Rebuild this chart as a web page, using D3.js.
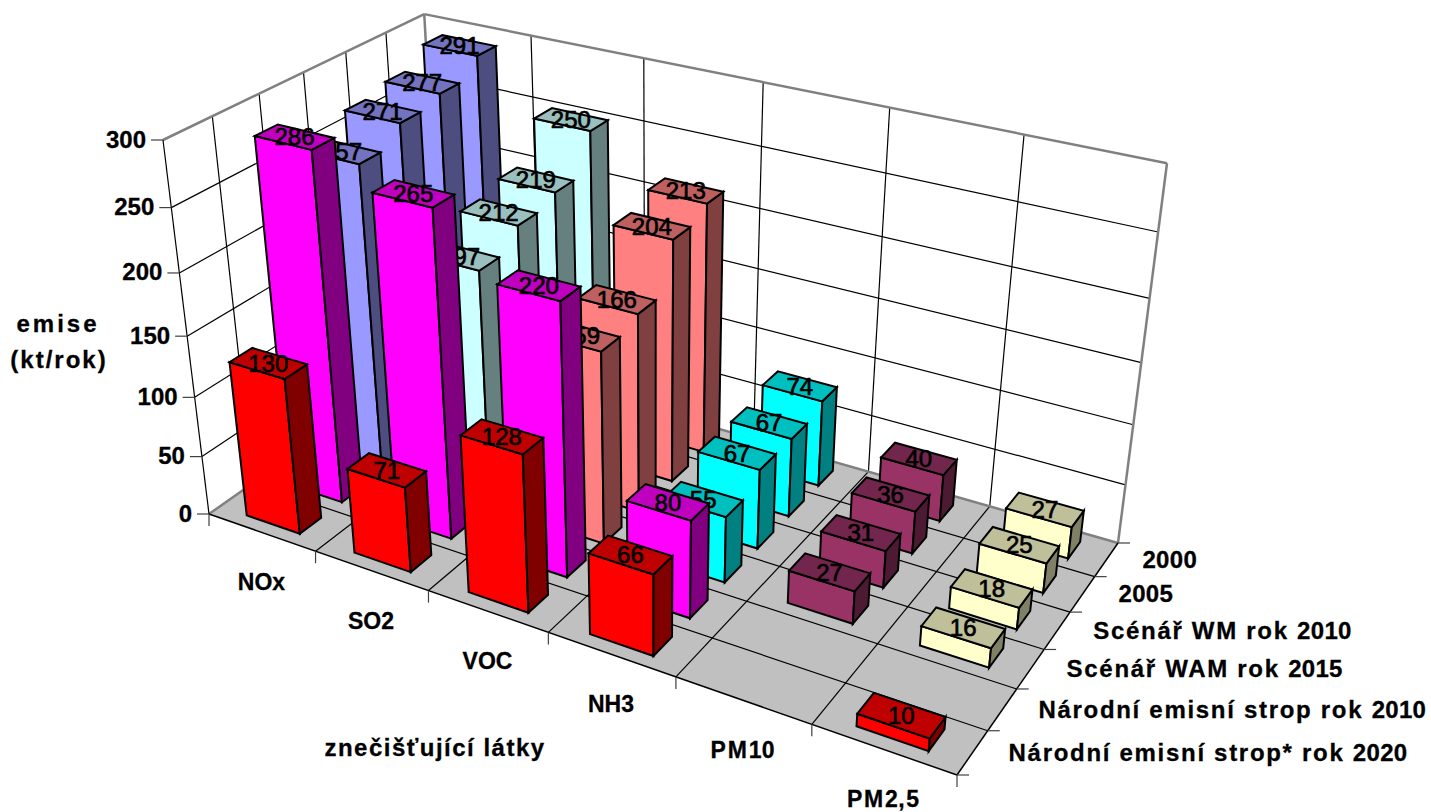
<!DOCTYPE html>
<html>
<head>
<meta charset="utf-8">
<script src="https://cdn.jsdelivr.net/npm/d3@7"></script>
<style>
  html, body { margin: 0; background: #fff; }
  svg { display: block; }
  text { font-family: "Liberation Sans", Arial, sans-serif; fill: #000; }
  .axis-label { font-weight: bold; font-size: 24px; stroke: #000; stroke-width: 0.3px; }
  .category-label { font-size: 23px; }
  .value { font-size: 24px; stroke: #000; stroke-width: 0.7px; }
</style>
</head>
<body>
<div id="chart-area"></div>
<script>
// Data
var categories = ["NOx", "SO2", "VOC", "NH3", "PM10", "PM2,5"];
// front row first
var seriesNames = [
    "Národní emisní strop* rok 2020",
    "Národní emisní strop rok 2010",
    "Scénář WAM rok 2015",
    "Scénář WM rok 2010",
    "2005",
    "2000"
];
var strop2020 = [130, 71, 128, 66, null, 10];
var strop2010 = [286, 265, 220, 80, null, null];
var wam2015 = [257, 197, 159, 55, 27, 16];
var wm2010 = [271, 212, 166, 67, 31, 18];
var y2005 = [277, 219, 204, 67, 36, 25];
var y2000 = [291, 250, 213, 74, 40, 27];
var rows = [strop2020, strop2010, wam2015, wm2010, y2005, y2000];
var yTicks = [0, 50, 100, 150, 200, 250, 300];

var categoryColors = ["#9999ff", "#ccffff", "#ff8080", "#00ffff", "#993366", "#ffffcc"];
var rowColors = ["#ff0000", "#ff00ff"];

var width = 1431, height = 812;

var svg = d3.select("#chart-area")
    .append("svg")
        .attr("width", width)
        .attr("height", height);

// Camera: the box corners as they land on screen
var cFrontLeft = [209, 514], cFrontRight = [957, 775],
    cBackRight = [1118, 543], cBackLeft = [443, 350],
    cTopFront = [163, 140], cTopRight = [1167, 160];

var sx = cFrontLeft[0] - cFrontRight[0] + cBackRight[0] - cBackLeft[0],
    sy = cFrontLeft[1] - cFrontRight[1] + cBackRight[1] - cBackLeft[1],
    dx1 = cFrontRight[0] - cBackRight[0], dx2 = cBackLeft[0] - cBackRight[0],
    dy1 = cFrontRight[1] - cBackRight[1], dy2 = cBackLeft[1] - cBackRight[1],
    den = dx1 * dy2 - dx2 * dy1,
    g7 = (sx * dy2 - dx2 * sy) / den,
    h7 = (dx1 * sy - sx * dy1) / den,
    a1 = cFrontRight[0] - cFrontLeft[0] + g7 * cFrontRight[0],
    b1 = cBackLeft[0] - cFrontLeft[0] + h7 * cBackLeft[0],
    a2 = cFrontRight[1] - cFrontLeft[1] + g7 * cFrontRight[1],
    b2 = cBackLeft[1] - cFrontLeft[1] + h7 * cBackLeft[1];

// height column of the projection
var w11 = g7 + h7 + 1,
    cw = ((cTopFront[0] - cFrontLeft[0]) - (cTopRight[0] - cBackRight[0]) * w11) / (cTopRight[0] - cTopFront[0]),
    cx = cTopFront[0] * cw + cTopFront[0] - cFrontLeft[0],
    cy = cTopFront[1] * cw + cTopFront[1] - cFrontLeft[1];

// u = along categories, v = front to back, h = up, all 0..1
function project(u, v, h) {
    var w = g7 * u + h7 * v + 1 + cw * h;
    return [
        (a1 * u + b1 * v + cFrontLeft[0] + cx * h) / w,
        (a2 * u + b2 * v + cFrontLeft[1] + cy * h) / w
    ];
}

// Scale
var x = d3.scaleBand()
    .domain(d3.range(categories.length))
    .range([0.001, 1.001])
    .paddingInner(0.5)
    .paddingOuter(0.25);

var z = d3.scaleBand()
    .domain(d3.range(rows.length))
    .range([0, 1])
    .paddingInner(0.5)
    .paddingOuter(0.25);

var y = d3.scaleLinear()
    .domain([0, 300])
    .range([0, 1]);

function poly(parent, pts, fill) {
    return parent.append("polygon")
        .attr("points", pts.map(p => p.join(",")).join(" "))
        .attr("fill", fill);
}

function line(parent, a, b, color, w) {
    return parent.append("line")
        .attr("x1", a[0]).attr("y1", a[1])
        .attr("x2", b[0]).attr("y2", b[1])
        .attr("stroke", color)
        .attr("stroke-width", w);
}

// Walls and floor
var box = svg.append("g").attr("class", "box");

poly(box, [project(0,0,0), project(1,0,0), project(1,1,0), project(0,1,0)], "#c0c0c0");

var uEdges = d3.range(categories.length + 1).map(i => i / categories.length);
var vEdges = d3.range(rows.length + 1).map(i => i / rows.length);

yTicks.slice(1, -1).forEach(t => {
    line(box, project(0, 0, y(t)), project(0, 1, y(t)), "#000", 1.2);
    line(box, project(0, 1, y(t)), project(1, 1, y(t)), "#000", 1.2);
});
vEdges.slice(1, -1).forEach(v => {
    line(box, project(0, v, 0), project(0, v, 1), "#000", 1.2);
    line(box, project(0, v, 0), project(1, v, 0), "#000", 1.2);
});
uEdges.slice(1, -1).forEach(u => {
    line(box, project(u, 1, 0), project(u, 1, 1), "#000", 1.2);
    line(box, project(u, 0, 0), project(u, 1, 0), "#000", 1.2);
});

// wall outline
line(box, project(0, 0, 1), project(0, 1, 1), "#808080", 2.5);
line(box, project(0, 1, 1), project(1, 1, 1), "#808080", 2.5);
line(box, project(0, 1, 0), project(0, 1, 1), "#808080", 2.5);
line(box, project(1, 1, 0), project(1, 1, 1), "#808080", 2.5);
line(box, project(0, 0, 0), project(0, 1, 0), "#808080", 2.5);
line(box, project(0, 1, 0), project(1, 1, 0), "#808080", 2.5);
line(box, project(0, 0, 0), project(0, 0, 1), "#000", 1.2);
line(box, project(0, 0, 0), project(1, 0, 0), "#000", 1.5);
line(box, project(1, 0, 0), project(1, 1, 0), "#000", 1.5);

// Tick marks
yTicks.forEach(t => {
    var p = project(0, 0, y(t));
    line(box, [p[0] - 12, p[1]], p, "#404040", 1.2);
});
uEdges.forEach(u => {
    var p = project(u, 0, 0);
    line(box, p, [p[0], p[1] + 12], "#404040", 1.2);
});
vEdges.forEach(v => {
    var p = project(1, v, 0);
    line(box, p, [p[0] + 12, p[1]], "#404040", 1.2);
});

// Bars back row first, so nearer bars cover the labels behind them
var bars = svg.append("g").attr("class", "bars");

d3.range(rows.length).reverse().forEach(r => {
    rows[r].forEach((value, c) => {
        if (value === null) return;
        var u0 = x(c), u1 = x(c) + x.bandwidth(),
            v0 = z(r), v1 = z(r) + z.bandwidth(),
            h = y(value);
        var base = d3.color(r < rowColors.length ? rowColors[r] : categoryColors[c]);

        var bar = bars.append("g");
        var faces = [
            [[project(u0,v0,0), project(u1,v0,0), project(u1,v0,h), project(u0,v0,h)], base],
            [[project(u1,v0,0), project(u1,v1,0), project(u1,v1,h), project(u1,v0,h)], shade(base, 0.5)],
            [[project(u0,v0,h), project(u1,v0,h), project(u1,v1,h), project(u0,v1,h)], shade(base, 0.75)]
        ];
        faces.forEach(f => {
            poly(bar, f[0], f[1])
                .attr("stroke", "#000")
                .attr("stroke-width", 2)
                .attr("stroke-linejoin", "miter");
        });

        var centre = project((u0 + u1) / 2, (v0 + v1) / 2, h);
        bar.append("text")
            .attr("class", "value")
            .attr("x", centre[0])
            .attr("y", centre[1])
            .attr("text-anchor", "middle")
            .attr("dominant-baseline", "central")
            .text(value);
    });
});

function shade(c, k) {
    return d3.rgb(c.r * k, c.g * k, c.b * k).formatHex();
}

// letters are spread out in the original, digits are not
function spaced(sel, name, spacing) {
    name.split(/(\d+)/).filter(s => s).forEach(part => {
        sel.append("tspan")
            .attr("letter-spacing", /^\d/.test(part) ? "0.3px" : spacing + "px")
            .text(part);
    });
}

// Axis labels
var labels = svg.append("g").attr("class", "labels");

yTicks.forEach(t => {
    var p = project(0, 0, y(t));
    labels.append("text")
        .attr("class", "axis-label")
        .attr("x", p[0] - 17)
        .attr("y", p[1] - 1)
        .attr("text-anchor", "end")
        .attr("dominant-baseline", "central")
        .text(t);
});

categories.forEach((name, c) => {
    var p = project((c + 0.5) / categories.length, 0, 0);
    var t = labels.append("text")
        .attr("class", "axis-label category-label")
        .attr("x", p[0])
        .attr("y", p[1] + 50)
        .attr("text-anchor", "middle")
        .attr("dominant-baseline", "central");
    spaced(t, name, name.startsWith("PM") ? 1.8 : 0);
});

seriesNames.forEach((name, r) => {
    var p = project(1, z(r) + z.bandwidth() / 2, 0);
    var t = labels.append("text")
        .attr("class", "axis-label")
        .attr("x", p[0] + 36)
        .attr("y", p[1] - 1)
        .attr("dominant-baseline", "central");
    spaced(t, name, 1.7);
});

labels.append("text").attr("class", "axis-label")
    .attr("x", 58).attr("y", 323)
    .attr("text-anchor", "middle").attr("dominant-baseline", "central")
    .attr("letter-spacing", "3px")
    .text("emise");
labels.append("text").attr("class", "axis-label")
    .attr("x", 59).attr("y", 359)
    .attr("text-anchor", "middle").attr("dominant-baseline", "central")
    .attr("letter-spacing", "2px")
    .text("(kt/rok)");
labels.append("text").attr("class", "axis-label")
    .attr("x", 435).attr("y", 747)
    .attr("text-anchor", "middle").attr("dominant-baseline", "central")
    .attr("letter-spacing", "1.5px")
    .text("znečišťující látky");
</script>
</body>
</html>
